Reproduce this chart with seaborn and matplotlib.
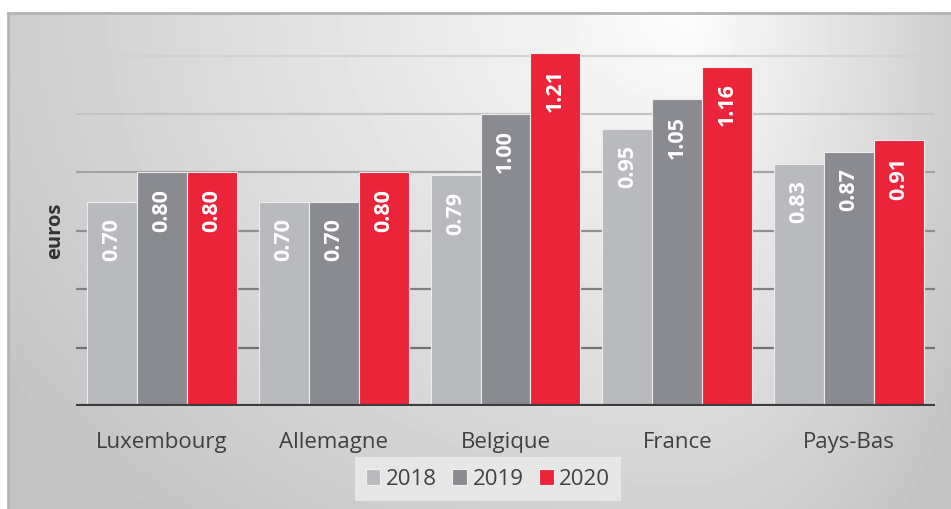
import numpy as np
import pandas as pd
import seaborn as sns
import matplotlib.pyplot as plt
from matplotlib.patches import Patch

pays = ["Luxembourg", "Allemagne", "Belgique", "France", "Pays-Bas"]
annees = ["2018", "2019", "2020"]
prix_2018 = [0.70, 0.70, 0.79, 0.95, 0.83]
prix_2019 = [0.80, 0.70, 1.00, 1.05, 0.87]
prix_2020 = [0.80, 0.80, 1.21, 1.16, 0.91]

couleurs = {"2018": "#b9babe", "2019": "#8a8b90", "2020": "#ec2439"}

df = pd.DataFrame({
    "pays": pays * 3,
    "annee": [a for a in annees for _ in pays],
    "prix": prix_2018 + prix_2019 + prix_2020,
})

sns.set_style("white")
plt.rcParams["font.family"] = ["Open Sans", "DejaVu Sans"]

W, H = 951, 510
fig = plt.figure(figsize=(W / 100, H / 100), dpi=100)
fig.patch.set_facecolor("white")

# fond en dégradé gris
bg = fig.add_axes([8 / W, 0, 1 - 8 / W, (H - 14) / H], zorder=0)
xx, yy = np.meshgrid(np.arange(8, W), np.arange(14, H))
dx = xx - 690.0
sx = np.where(dx < 0, 760.0, 300.0)
r = np.sqrt((dx / sx) ** 2 + ((yy - 10.0) / 620.0) ** 2)
val = 252 - 52 * np.clip(r, 0, 1.1)
bg.imshow(val, cmap="gray", vmin=0, vmax=255, aspect="auto", interpolation="bilinear")
bg.set_xticks([])
bg.set_yticks([])
for s in ["right", "bottom"]:
    bg.spines[s].set_visible(False)
for s in ["top", "left"]:
    bg.spines[s].set_color("#b4b4b4")
    bg.spines[s].set_linewidth(2)

ymax = 1.25
ax = fig.add_axes([76 / W, (H - 407) / H, (935 - 76) / W, (407 - 42) / H], zorder=1)
ax.patch.set_alpha(0)

# lignes de grille, plus foncées vers le bas
grille = {0.2: "#727272", 0.4: "#808080", 0.6: "#909090", 0.8: "#a4a4a4", 1.0: "#c4c4c4", 1.2: "#d2d2d2"}
for yv, c in grille.items():
    ax.axhline(yv, color=c, lw=1.6, zorder=0.5)

sns.barplot(data=df, x="pays", y="prix", hue="annee", palette=couleurs, width=0.872,
            gap=0, saturation=1, edgecolor="#ececec", linewidth=0.8, ax=ax,
            legend=False, zorder=2)

for cont in ax.containers:
    for bar in cont:
        h = bar.get_height()
        ax.annotate(f"{h:.2f}", (bar.get_x() + bar.get_width() / 2, h),
                    xytext=(0, -11), textcoords="offset points",
                    ha="center", va="top", rotation=90, color="white",
                    fontsize=15.5, fontweight="bold", zorder=3)

ax.axhline(0, color="#3c3c3c", lw=3, zorder=4)
ax.set_xlim(-0.5, 4.5)
ax.set_ylim(0, ymax)
ax.set_yticks([])
ax.set_xlabel("")
ax.set_ylabel("euros", fontsize=14.5, fontweight="bold", color="#333333")
ax.yaxis.set_label_coords(-0.013, 0.482)
ax.tick_params(axis="x", length=0, pad=18, labelsize=16, labelcolor="#404040")
sns.despine(ax=ax, left=True, bottom=True)

handles = [Patch(facecolor=couleurs[a], edgecolor="#f0f0f0", lw=0.8, label=a) for a in annees]
leg = fig.legend(handles=handles, loc="center", bbox_to_anchor=(488 / W, 1 - 480 / H),
                 ncol=3, frameon=True, fontsize=16, handlelength=0.65, handleheight=0.7,
                 handletextpad=0.25, columnspacing=0.7, borderpad=0.5, fancybox=False)
leg.get_frame().set_facecolor("#e6e6e6")
leg.get_frame().set_edgecolor("none")
leg.get_frame().set_alpha(1)
for t in leg.get_texts():
    t.set_color("#404040")

fig.savefig("out.png", dpi=100)
